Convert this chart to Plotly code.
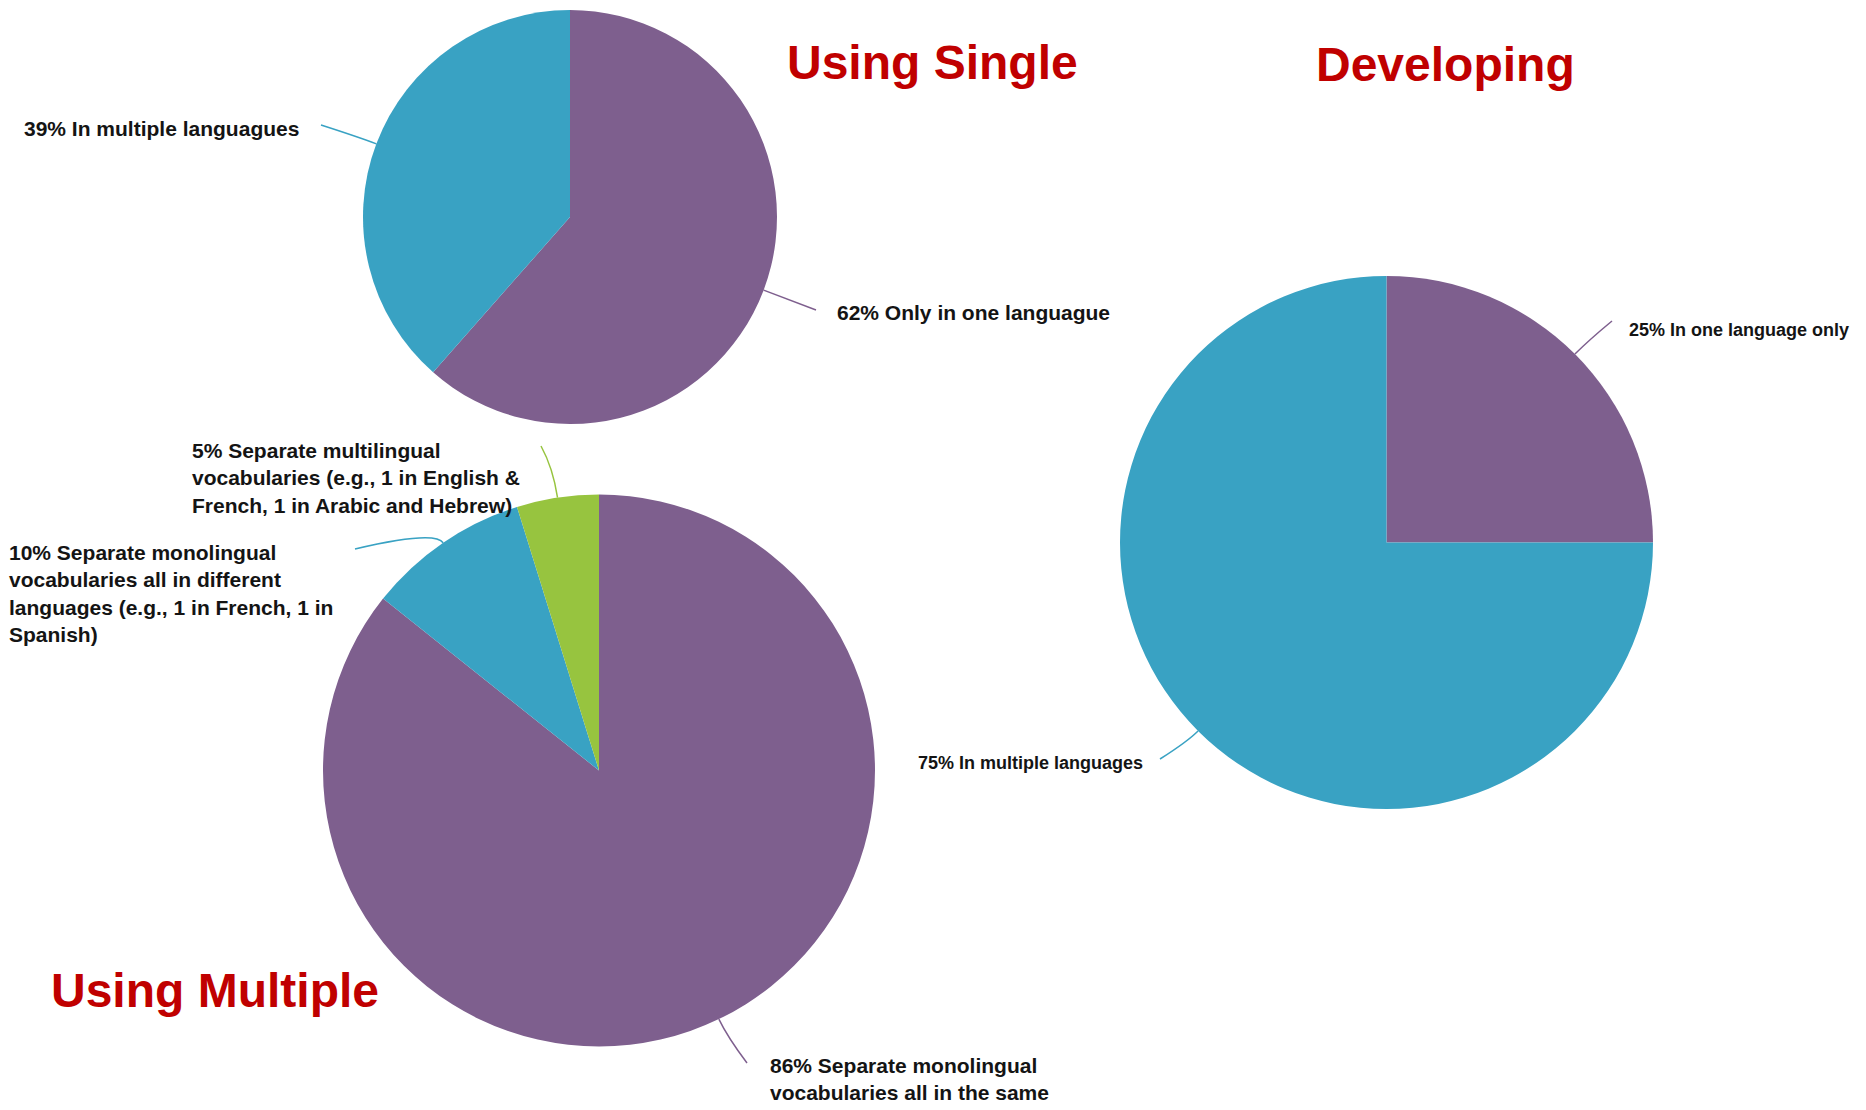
import math
import plotly.graph_objects as go

W, H = 1866, 1110
OFF = 8  # default page body margin
FW, FH = W - OFF, H - OFF

PURPLE = "#7E5F8E"
BLUE = "#39A2C3"
GREEN = "#97C43F"
RED = "#C00000"

# ---- data (slice shares) ----
single_labels = ["Only in one languague", "In multiple languagues"]
single_values = [61.5, 38.5]
single_colors = [PURPLE, BLUE]

multi_labels = [
    "Separate monolingual<br>vocabularies all in the same",
    "Separate monolingual<br>vocabularies all in different<br>languages (e.g., 1 in French, 1 in<br>Spanish)",
    "Separate multilingual<br>vocabularies (e.g., 1 in English &<br>French, 1 in Arabic and Hebrew)",
]
multi_values = [85.7, 9.5, 4.8]
multi_colors = [PURPLE, BLUE, GREEN]

dev_labels = ["In one language only", "In multiple languages"]
dev_values = [25, 75]
dev_colors = [PURPLE, BLUE]

titles = ["Using Single", "Using Multiple", "Developing"]

# ---- layout geometry (page pixels) ----
pies = [
    dict(values=single_values, labels=single_labels, colors=single_colors,
         cx=570, cy=217, r=207, fsize=21,
         # label anchor x, y, xanchor, leader end x, y, radial extension
         lab=[(835, 312, "left", 816, 310, 20), (301, 128, "right", 321, 125, 20)]),
    dict(values=multi_values, labels=multi_labels, colors=multi_colors,
         cx=599, cy=770.5, r=276, fsize=21,
         lab=[(768, 1079, "left", 747, 1063, 20), (7, 593, "left", 355, 549, 15), (190, 478, "left", 541, 446, 30)]),
    dict(values=dev_values, labels=dev_labels, colors=dev_colors,
         cx=1386.5, cy=542.5, r=266.5, fsize=18,
         lab=[(1627, 330, "left", 1612, 321, 20), (1145, 763, "right", 1160, 759, 15)]),
]

fig = go.Figure()
annotations = []
shapes = []


def px2paper(x, y):
    return (x - OFF) / FW, 1 - (y - OFF) / FH


for p in pies:
    cx, cy, r = p["cx"], p["cy"], p["r"]
    x0, y1 = px2paper(cx - r, cy - r)
    x1, y0 = px2paper(cx + r, cy + r)
    fig.add_trace(go.Pie(
        values=p["values"], labels=p["labels"], sort=False,
        direction="clockwise", rotation=0,
        marker=dict(colors=p["colors"], line=dict(width=0)),
        textinfo="none", hoverinfo="label+percent", showlegend=False,
        domain=dict(x=[x0, x1], y=[y0, y1]),
    ))
    total = sum(p["values"])
    cum = 0
    for v, lab, col, (lx, ly, anc, ex, ey, ext) in zip(p["values"], p["labels"], p["colors"], p["lab"]):
        mid = (cum + v / 2) / total * 2 * math.pi
        cum += v
        sx, sy = cx + r * math.sin(mid), cy - r * math.cos(mid)
        kx, ky = sx + ext * math.sin(mid), sy - ext * math.cos(mid)
        a, b = px2paper(sx, sy)
        c1, c2 = px2paper(kx, ky)
        e1, e2 = px2paper(ex, ey)
        shapes.append(dict(type="path", xref="paper", yref="paper",
                           path=f"M {a},{b} Q {c1},{c2} {e1},{e2}",
                           line=dict(color=col, width=1.5)))
        pct = int(math.floor(v / total * 100 + 0.5))
        ax, ay = px2paper(lx, ly)
        annotations.append(dict(
            x=ax, y=ay, xref="paper", yref="paper", xanchor=anc, yanchor="middle",
            text=f"{pct}% {lab}", showarrow=False, align="left",
            font=dict(family="Liberation Sans, Arial, sans-serif", size=p["fsize"], color="#141414", weight="bold"),
        ))

title_pos = [(785, 62), (49, 990), (1314, 65)]
for t, (tx, ty) in zip(titles, title_pos):
    ax, ay = px2paper(tx, ty)
    annotations.append(dict(
        x=ax, y=ay, xref="paper", yref="paper", xanchor="left", yanchor="middle",
        text=t, showarrow=False,
        font=dict(family="Liberation Sans, Arial, sans-serif", size=48, color=RED, weight="bold"),
    ))

fig.update_layout(
    width=FW, height=FH, margin=dict(l=0, r=0, t=0, b=0),
    paper_bgcolor="white", plot_bgcolor="white",
    annotations=annotations, shapes=shapes,
)

fig.write_html("out.html")
